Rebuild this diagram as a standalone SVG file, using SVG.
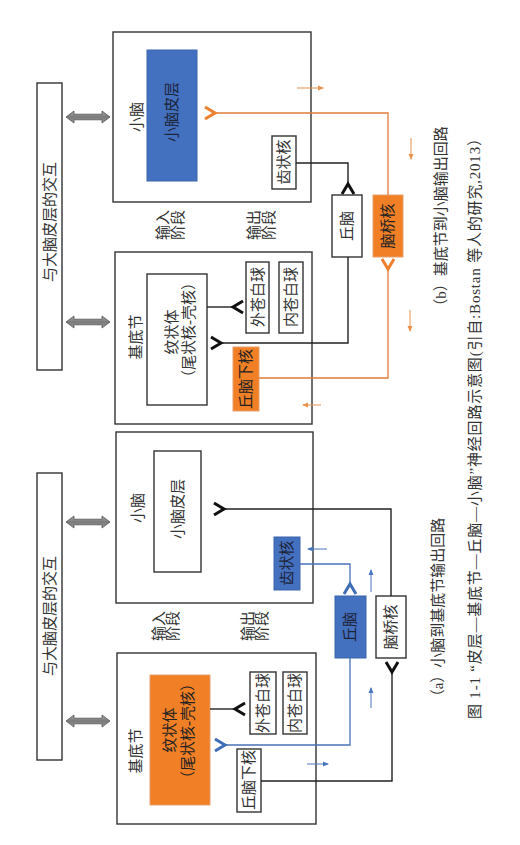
<svg xmlns="http://www.w3.org/2000/svg" width="520" height="845" viewBox="0 0 520 845">
<style>
text{font-family:"Liberation Serif","Noto Sans CJK SC",serif;font-size:15px;fill:#333;text-anchor:middle;dominant-baseline:central}
.box{fill:#fff;stroke:#333;stroke-width:1.4}
.org{fill:#F07F26;stroke:#E8A070;stroke-width:1}
.blu{fill:#4470C0;stroke:#3A64AC;stroke-width:1}
.ln{fill:none;stroke:#222;stroke-width:1.4}
.lo{fill:none;stroke:#E07A3A;stroke-width:1.3}
.lb{fill:none;stroke:#4A72B8;stroke-width:1.3}
.so{fill:none;stroke:#E8914E;stroke-width:1}
.sb{fill:none;stroke:#4A78C0;stroke-width:1}
</style>
<defs>
<linearGradient id="g" x1="0" y1="0" x2="0" y2="1">
<stop offset="0" stop-color="#a8a8a8"/><stop offset="0.5" stop-color="#7a7a7a"/><stop offset="1" stop-color="#9a9a9a"/>
</linearGradient>
<polygon id="dbl" points="66,0 74,-6 74,-2.8 102,-2.8 102,-6 110,0 102,6 102,2.8 74,2.8 74,6" fill="url(#g)" stroke="#555" stroke-width="0.8"/>
<marker id="cK" markerUnits="userSpaceOnUse" orient="auto" viewBox="-3 -9 18 18" markerWidth="18" markerHeight="18" refX="0" refY="0" overflow="visible"><path d="M11,-6 L1,0 L11,6" fill="none" stroke="#111" stroke-width="3"/></marker>
<marker id="cO" markerUnits="userSpaceOnUse" orient="auto" viewBox="-3 -9 18 18" markerWidth="18" markerHeight="18" refX="0" refY="0" overflow="visible"><path d="M11,-6 L1,0 L11,6" fill="none" stroke="#EE7F2D" stroke-width="3"/></marker>
<marker id="cB" markerUnits="userSpaceOnUse" orient="auto" viewBox="-3 -9 18 18" markerWidth="18" markerHeight="18" refX="0" refY="0" overflow="visible"><path d="M11,-6 L1,0 L11,6" fill="none" stroke="#3F6DB8" stroke-width="3"/></marker>
<marker id="tO" markerUnits="userSpaceOnUse" orient="auto" viewBox="0 -4 8 8" markerWidth="8" markerHeight="8" refX="5" refY="0"><path d="M0,-2.5 L6,0 L0,2.5 z" fill="#E8914E"/></marker>
<marker id="tB" markerUnits="userSpaceOnUse" orient="auto" viewBox="0 -4 8 8" markerWidth="8" markerHeight="8" refX="5" refY="0"><path d="M0,-2.5 L6,0 L0,2.5 z" fill="#4A78C0"/></marker>
</defs>

<!-- ===== Panel (b) ===== -->
<g id="b-cortex-interaction"><rect class="box" x="37" y="83" width="25" height="287"/><text x="50" y="222" transform="rotate(-90 50 222)">与大脑皮层的交互</text></g>
<g id="b-cerebellum"><rect class="box" x="113" y="32" width="198" height="170"/><text x="137" y="117" transform="rotate(-90 137 117)">小脑</text></g>
<g id="b-cb-cortex"><rect class="blu" x="147" y="50" width="50" height="131"/><text x="172" y="112" transform="rotate(-90 172 112)" style="fill:#1c2438">小脑皮层</text></g>
<g id="b-dentate"><rect class="box" x="272" y="136" width="24" height="53"/><text x="284" y="162" transform="rotate(-90 284 162)">齿状核</text></g>
<g id="b-thalamus"><rect class="box" x="332" y="195" width="30" height="62"/><text x="347" y="226" transform="rotate(-90 347 226)">丘脑</text></g>
<g id="b-pontine"><rect class="org" x="373" y="195" width="30" height="62"/><text x="388" y="226" transform="rotate(-90 388 226)" style="fill:#222">脑桥核</text></g>
<g id="b-basal"><rect class="box" x="115" y="252" width="197" height="172"/><text x="136" y="337" transform="rotate(-90 136 337)">基底节</text></g>
<g id="b-striatum"><rect class="box" x="147" y="274" width="60" height="131"/><text x="172" y="332" transform="rotate(-90 172 332)">纹状体</text><text x="189" y="330" transform="rotate(-90 189 330)">（尾状核-壳核）</text></g>
<g id="b-gpe"><rect class="box" x="246" y="262" width="23" height="71"/><text x="257.5" y="297" transform="rotate(-90 257.5 297)">外苍白球</text></g>
<g id="b-gpi"><rect class="box" x="279" y="262" width="24" height="71"/><text x="291" y="297" transform="rotate(-90 291 297)">内苍白球</text></g>
<g id="b-stn"><rect class="org" x="233" y="347" width="26" height="64"/><text x="246" y="379" transform="rotate(-90 246 379)" style="fill:#222">丘脑下核</text></g>
<g id="b-input-label"><text x="163" y="225" transform="rotate(-90 163 225)">输入</text><text x="178" y="225" transform="rotate(-90 178 225)">阶段</text></g>
<g id="b-output-label"><text x="254" y="225" transform="rotate(-90 254 225)">输出</text><text x="269" y="225" transform="rotate(-90 269 225)">阶段</text></g>

<!-- ===== Panel (a) ===== -->
<g id="a-cortex-interaction"><rect class="box" x="37" y="473" width="25" height="287"/><text x="50" y="616" transform="rotate(-90 50 616)">与大脑皮层的交互</text></g>
<g id="a-cerebellum"><rect class="box" x="116" y="432" width="197" height="171"/><text x="138" y="508" transform="rotate(-90 138 508)">小脑</text></g>
<g id="a-cb-cortex"><rect class="box" x="154" y="451" width="47" height="121"/><text x="178" y="509" transform="rotate(-90 178 509)">小脑皮层</text></g>
<g id="a-dentate"><rect class="blu" x="274" y="537" width="26" height="53"/><text x="287" y="563" transform="rotate(-90 287 563)" style="fill:#1c2438">齿状核</text></g>
<g id="a-thalamus"><rect class="blu" x="335" y="596" width="31" height="62"/><text x="350" y="627" transform="rotate(-90 350 627)" style="fill:#1c2438">丘脑</text></g>
<g id="a-pontine"><rect class="box" x="376" y="596" width="30" height="62"/><text x="391" y="627" transform="rotate(-90 391 627)">脑桥核</text></g>
<g id="a-basal"><rect class="box" x="117" y="653" width="199" height="171"/><text x="136" y="751" transform="rotate(-90 136 751)">基底节</text></g>
<g id="a-striatum"><rect class="org" x="150" y="675" width="60" height="130"/><text x="170" y="730" transform="rotate(-90 170 730)" style="fill:#222">纹状体</text><text x="188" y="731" transform="rotate(-90 188 731)" style="fill:#222">（尾状核-壳核）</text></g>
<g id="a-gpe"><rect class="box" x="250" y="672" width="26" height="62"/><text x="263" y="703" transform="rotate(-90 263 703)">外苍白球</text></g>
<g id="a-gpi"><rect class="box" x="283" y="672" width="24" height="62"/><text x="295" y="703" transform="rotate(-90 295 703)">内苍白球</text></g>
<g id="a-stn"><rect class="box" x="237" y="749" width="24" height="63"/><text x="249" y="780" transform="rotate(-90 249 780)">丘脑下核</text></g>
<g id="a-input-label"><text x="159" y="626" transform="rotate(-90 159 626)">输入</text><text x="173" y="626" transform="rotate(-90 173 626)">阶段</text></g>
<g id="a-output-label"><text x="248" y="626" transform="rotate(-90 248 626)">输出</text><text x="262" y="626" transform="rotate(-90 262 626)">阶段</text></g>

<!-- ===== Connectors ===== -->
<g id="connectors">
<use href="#dbl" transform="translate(0,117)"/>
<use href="#dbl" transform="translate(0,322)"/>
<use href="#dbl" transform="translate(0,522)"/>
<use href="#dbl" transform="translate(0,721)"/>
<!-- (b) -->
<path class="ln" d="M296,163 H348 V183" marker-end="url(#cK)"/>
<path class="ln" d="M348,257 V343 H222" marker-end="url(#cK)"/>
<path class="ln" d="M207,307 H232" marker-end="url(#cK)"/>
<path class="lo" d="M388,195 V113 H216" marker-end="url(#cO)"/>
<path class="lo" d="M259,378 H388 V270" marker-end="url(#cO)"/>
<path class="so" d="M297,88 H323" marker-end="url(#tO)"/>
<path class="so" d="M411,138 V159" marker-end="url(#tO)"/>
<path class="so" d="M410,310 V331" marker-end="url(#tO)"/>
<path class="so" d="M321,405 H303" marker-end="url(#tO)"/>
<!-- (a) -->
<path class="ln" d="M391,596 V509 H225" marker-end="url(#cK)"/>
<path class="lb" d="M300,564 H350 V583" marker-end="url(#cB)"/>
<path class="lb" d="M350,658 V745 H226" marker-end="url(#cB)"/>
<path class="ln" d="M210,709 H234" marker-end="url(#cK)"/>
<path class="ln" d="M261,781 H392 V673" marker-end="url(#cK)"/>
<path class="sb" d="M327,549 H308" marker-end="url(#tB)"/>
<path class="sb" d="M371,592 V570" marker-end="url(#tB)"/>
<path class="sb" d="M371,708 V688" marker-end="url(#tB)"/>
<path class="sb" d="M307,764 H328" marker-end="url(#tB)"/>
</g>

<!-- ===== Captions ===== -->
<g id="captions">
<text x="441" y="220" transform="rotate(-90 441 220)">（b）基底节到小脑输出回路</text>
<text x="438" y="611" transform="rotate(-90 438 611)">（a）小脑到基底节输出回路</text>
<text x="475" y="425" transform="rotate(-90 475 425)" textLength="588" lengthAdjust="spacing">图 1-1  “皮层—基底节—丘脑—小脑”神经回路示意图(引自:Bostan 等人的研究,2013）</text>
</g>
</svg>
